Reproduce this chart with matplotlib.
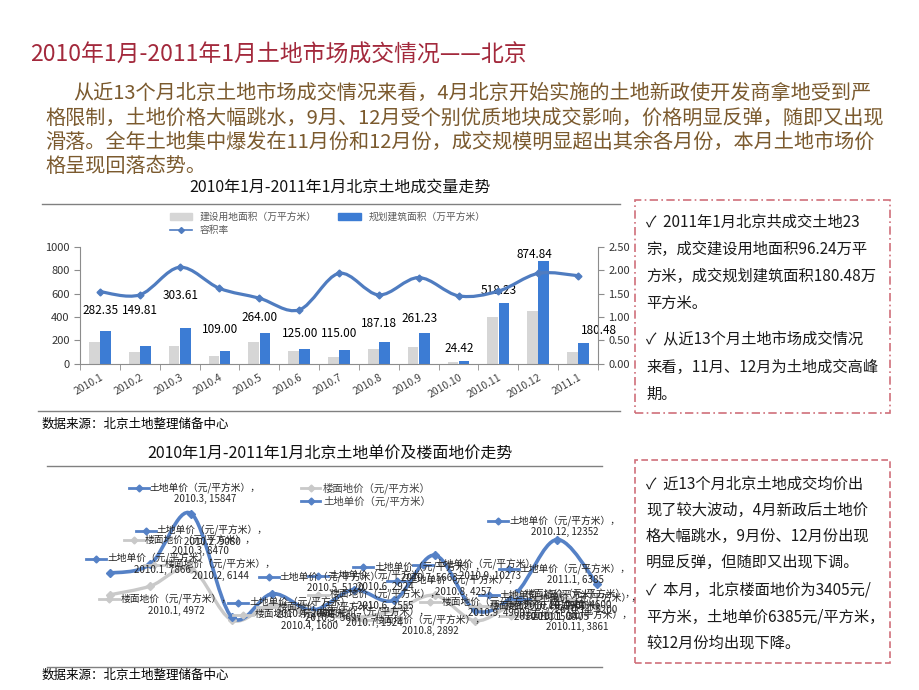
import numpy as np
import matplotlib.pyplot as plt
from matplotlib.path import Path
from matplotlib.patches import PathPatch, Rectangle, Patch
from matplotlib.lines import Line2D
import matplotlib.transforms as mtransforms

plt.rcParams['font.family'] = ['Noto Sans CJK SC', 'DejaVu Sans']

months = ['2010.1', '2010.2', '2010.3', '2010.4', '2010.5', '2010.6', '2010.7',
          '2010.8', '2010.9', '2010.10', '2010.11', '2010.12', '2011.1']
land_area = [182, 100, 150, 66, 186, 108, 55, 125, 140, 12, 396, 450, 96.24]
build_area = [282.35, 149.81, 303.61, 109.00, 264.00, 125.00, 115.00,
              187.18, 261.23, 24.42, 518.23, 874.84, 180.48]
plot_ratio = [1.54, 1.47, 2.06, 1.61, 1.40, 1.15, 1.93, 1.47, 1.84, 1.45, 1.55, 1.93, 1.88]
land_price = [7866, 9080, 15847, 2000, 5120, 2924, 5663, 4257, 10273, 2900, 5200, 12352, 6385]
floor_price = [4972, 6144, 8470, 1600, 3697, 2555, 1924, 2892, 4900, 1500, 3861, 4600, 3405]

W, H = 920, 690
fig = plt.figure(figsize=(9.2, 6.9), dpi=100)


def fx(px):
    return px / W


def fy(py):
    return 1 - py / H


def hline(x0, x1, y, color='#808080', lw=1.0):
    fig.add_artist(Line2D([fx(x0), fx(x1)], [fy(y), fy(y)], color=color, lw=lw))


def smooth_path(xs, ys):
    # Excel-like smoothed line (cubic bezier through the points)
    pts = np.column_stack([xs, ys]).astype(float)
    n = len(pts)
    verts = [pts[0]]
    codes = [Path.MOVETO]
    for k in range(n - 1):
        p0 = pts[k - 1] if k > 0 else pts[k]
        p1, p2 = pts[k], pts[k + 1]
        p3 = pts[k + 2] if k + 2 < n else pts[k + 1]
        verts += [p1 + (p2 - p0) / 6, p2 - (p3 - p1) / 6, p2]
        codes += [Path.CURVE4] * 3
    return Path(verts, codes)


# ---- heading and paragraph
fig.text(fx(30), fy(55), '2010年1月-2011年1月土地市场成交情况——北京',
         fontsize=16.5, color='#A3293C', va='center')
para = ['从近13个月北京土地市场成交情况来看，4月北京开始实施的土地新政使开发商拿地受到严',
        '格限制，土地价格大幅跳水，9月、12月受个别优质地块成交影响，价格明显反弹，随即又出现',
        '滑落。全年土地集中爆发在11月份和12月份，成交规模明显超出其余各月份，本月土地市场价',
        '格呈现回落态势。']
para_x = [73, 45, 45, 45]
para_y = [93, 118, 142, 166]
for t, x, y in zip(para, para_x, para_y):
    fig.text(fx(x), fy(y), t, fontsize=14.5, color='#7B5A2E', va='center')

# ---- chart 1
fig.text(fx(340), fy(187), '2010年1月-2011年1月北京土地成交量走势',
         fontsize=11.5, ha='center', va='center', color='#111111')
hline(42, 620, 204)
hline(38, 620, 411)
fig.text(fx(42), fy(424), '数据来源：北京土地整理储备中心', fontsize=9, va='center')

ax1 = fig.add_axes([fx(80), fy(363.7), 518 / W, 117 / H])
x = np.arange(len(months))
ax1.bar(x - 0.14, land_area, width=0.27, color='#D6D6D6')
ax1.bar(x + 0.14, build_area, width=0.27, color='#3C7CD4')
ax1.set_xlim(-0.5, 12.5)
ax1.set_ylim(0, 1000)
ax1.set_yticks(range(0, 1001, 200))
ax1.set_xticks(x)
ax1.set_xticklabels(months, rotation=30, ha='right', rotation_mode='anchor',
                    fontsize=7.5, color='#404040')
shift = mtransforms.ScaledTranslation(0.12, 0, fig.dpi_scale_trans)
for lab in ax1.get_xticklabels():
    lab.set_transform(lab.get_transform() + shift)
ax1.set_xticks(np.arange(-0.5, 13, 1), minor=True)
ax1.tick_params(axis='x', which='major', length=0, pad=6)
ax1.tick_params(axis='x', which='minor', length=4, color='#8C8C8C')
ax1.tick_params(axis='y', labelsize=8, length=4, color='#8C8C8C', labelcolor='#333333')
for s in ['top', 'right']:
    ax1.spines[s].set_visible(False)
for s in ['left', 'bottom']:
    ax1.spines[s].set_color('#8C8C8C')

label_gap = [20, 36, 33, 21, 15, 16, 17, 18, 15, 12, 13, 7, 12]
label_dx = [0, 0, 0, 0, 0, 0, 0, 0, 0, 0, 0, -4, 20]
for i, v in enumerate(build_area):
    ax1.annotate(f'{v:.2f}', (i + 0.14, v), xytext=(label_dx[i] - 5, label_gap[i]),
                 textcoords='offset pixels', ha='center', va='center', fontsize=8.5)

ax2 = ax1.twinx()
ax2.set_ylim(0, 2.5)
ax2.set_yticks(np.arange(0, 2.51, 0.5))
ax2.set_yticklabels([f'{v:.2f}' for v in np.arange(0, 2.51, 0.5)])
ax2.tick_params(axis='y', labelsize=8, length=4, color='#8C8C8C', labelcolor='#333333')
ax2.spines['top'].set_visible(False)
ax2.spines['right'].set_color('#8C8C8C')
ax2.spines['left'].set_visible(False)
ax2.spines['bottom'].set_visible(False)
ax2.add_patch(PathPatch(smooth_path(x, plot_ratio), fill=False, ec='#4F7CC0', lw=2.3))
ax2.plot(x, plot_ratio, ls='none', marker='D', ms=3.5, color='#4F7CC0')

h1 = [Patch(color='#D6D6D6'),
      Line2D([], [], color='#4F7CC0', lw=1.2, marker='D', ms=3),
      Patch(color='#3C7CD4')]
fig.legend(h1, ['建设用地面积（万平方米）', '容积率', '规划建筑面积（万平方米）'],
           ncol=2, loc='upper left', bbox_to_anchor=(fx(165), fy(207)), frameon=False,
           fontsize=7, labelcolor='#595959', handlelength=2.3, handleheight=0.6,
           columnspacing=2.2, labelspacing=0.35, borderpad=0)

# ---- chart 2
fig.text(fx(330), fy(453), '2010年1月-2011年1月北京土地单价及楼面地价走势',
         fontsize=11.5, ha='center', va='center', color='#111111')
hline(47, 602, 466)
hline(47, 602, 667)
fig.text(fx(42), fy(675), '数据来源：北京土地整理储备中心', fontsize=9, va='center')

ax3 = fig.add_axes([fx(40), fy(660), 580 / W, 185 / H])
ax3.axis('off')
ax3.set_xlim(-1.72, 12.56)
ax3.set_ylim(-3750, 21000)
gray_c, blue_c = '#C9C9C9', '#5581C6'
ax3.add_patch(PathPatch(smooth_path(x, floor_price), fill=False, ec=gray_c, lw=2.4))
ax3.plot(x, floor_price, ls='none', marker='D', ms=4, color=gray_c)
ax3.add_patch(PathPatch(smooth_path(x, land_price), fill=False, ec=blue_c, lw=2.6))
ax3.plot(x, land_price, ls='none', marker='D', ms=4, color=blue_c)

h2 = [Line2D([], [], color=gray_c, lw=2, marker='D', ms=3.5),
      Line2D([], [], color=blue_c, lw=2, marker='D', ms=3.5)]
fig.legend(h2, ['楼面地价（元/平方米）', '土地单价（元/平方米）'], loc='upper left',
           bbox_to_anchor=(fx(296), fy(477)), frameon=False, fontsize=7.5,
           labelcolor='#404040', handlelength=1.8, handletextpad=0.3,
           labelspacing=0.2, borderpad=0)

# data-label offsets (pixels from the point: right, up)
land_off = [(53, 9), (62, 28), (14, 20), (73, 9), (63, 11), (72, 29), (76, 17),
            (69, 14), (55, -15), (80, 10), (70, -11), (8, 13), (-22, 10)]
floor_off = [(66, -10), (70, 16), (9, 23), (78, 0), (61, -8), (72, 13), (21, 0),
             (36, -15), (62, -12), (70, 9), (61, -18), (24, -2), (-37, -5)]

renderer = fig.canvas.get_renderer()
for name, vals, offs, col in [('楼面地价（元/平方米），', floor_price, floor_off, gray_c),
                              ('土地单价（元/平方米），', land_price, land_off, blue_c)]:
    for i, v in enumerate(vals):
        px, py = ax3.transData.transform((i, v))
        cx, cy = px + offs[i][0], py + offs[i][1]
        t = fig.text(cx / W, cy / H, f'{name}\n{months[i]}, {v}', fontsize=7,
                     ha='center', va='center', color='#262626', linespacing=1.05)
        bb = t.get_window_extent(renderer)
        ky = bb.y1 - bb.height / 4
        kx1 = bb.x0 - 1
        kx0 = kx1 - 20
        fig.add_artist(Line2D([kx0 / W, kx1 / W], [ky / H, ky / H], color=col, lw=2))
        fig.add_artist(Line2D([(kx0 + kx1) / 2 / W], [ky / H], color=col,
                              marker='D', ms=3.5, ls='none'))

# ---- comment boxes
box_c = '#D0707A'
fig.add_artist(Rectangle((fx(635), fy(413)), 255 / W, 213 / H, transform=fig.transFigure,
                         fill=False, ec=box_c, lw=1.2, ls=(0, (5, 2, 1, 2))))
fig.add_artist(Rectangle((fx(635), fy(663)), 255 / W, 203 / H, transform=fig.transFigure,
                         fill=False, ec=box_c, lw=1.2, ls=(0, (4, 2))))

box1 = ['✓  2011年1月北京共成交土地23', '宗，成交建设用地面积96.24万平',
        '方米，成交规划建筑面积180.48万', '平方米。',
        '✓  从近13个月土地市场成交情况', '来看，11月、12月为土地成交高峰', '期。']
box1_y = [222, 249, 276, 303, 340, 367, 394]
box2 = ['✓  近13个月北京土地成交均价出', '现了较大波动，4月新政后土地价',
        '格大幅跳水，9月份、12月份出现', '明显反弹，但随即又出现下调。',
        '✓  本月，北京楼面地价为3405元/', '平方米，土地单价6385元/平方米，',
        '较12月份均出现下降。']
box2_y = [484, 510, 536, 562, 590, 617, 643]
for t, y in zip(box1, box1_y):
    fig.text(fx(646), fy(y), t, fontsize=11, va='center', color='#1A1A1A')
for t, y in zip(box2, box2_y):
    fig.text(fx(646), fy(y), t, fontsize=11, va='center', color='#1A1A1A')

fig.savefig('out.png', dpi=100)
